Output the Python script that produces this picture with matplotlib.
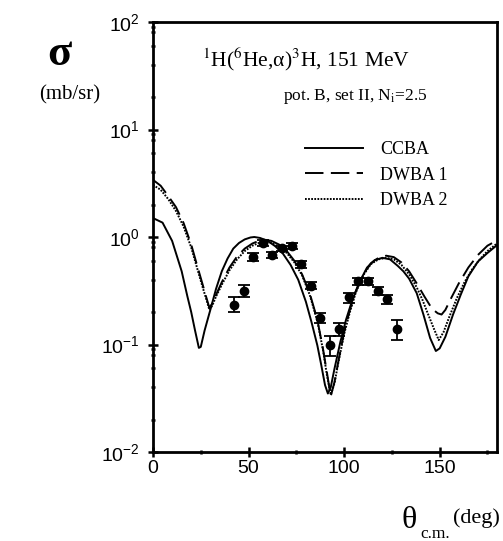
import matplotlib
matplotlib.use("Agg")
import matplotlib.pyplot as plt
from matplotlib.ticker import FixedLocator, MultipleLocator, LogLocator, NullFormatter

plt.rcParams['mathtext.fontset'] = 'stix'

# ---- data ----
exp_theta = [42.5, 47.5, 52.5, 57.5, 62.5, 67.5, 72.5, 77.5, 82.5, 87.5,
             92.5, 97.5, 102.5, 107.5, 112.5, 117.5, 122.5, 127.5]
exp_sigma = [0.235, 0.316, 0.647, 0.874, 0.68, 0.785, 0.824, 0.557, 0.352, 0.178,
             0.100, 0.139, 0.275, 0.39, 0.39, 0.315, 0.263, 0.139]
exp_err_lo = [0.033, 0.038, 0.05, 0.05, 0.04, 0.04, 0.05, 0.04, 0.025, 0.018,
              0.022, 0.019, 0.03, 0.03, 0.03, 0.025, 0.026, 0.029]
exp_err_hi = [0.043, 0.042, 0.06, 0.06, 0.045, 0.045, 0.05, 0.045, 0.028, 0.017,
              0.020, 0.021, 0.028, 0.03, 0.03, 0.025, 0.027, 0.030]

ccba_theta = [0, 5, 10, 15, 18, 20, 22, 24, 25, 27, 30, 33, 36, 39, 42, 45, 48, 51, 53,
              56, 60, 64, 68, 72, 76, 80, 83, 86, 88, 90, 91.5, 93, 95, 98, 101, 104,
              108, 112, 116, 120, 124, 128, 131, 134, 138, 141.5, 145, 148, 150, 153,
              157, 161, 165, 170, 175, 180]
ccba_sigma = [1.5, 1.36, 0.92, 0.48, 0.28, 0.2, 0.135, 0.093, 0.095, 0.135, 0.21, 0.33,
              0.48, 0.63, 0.78, 0.88, 0.95, 0.99, 1.0,
              0.98, 0.92, 0.82, 0.70, 0.55, 0.40, 0.25, 0.16, 0.098, 0.065, 0.042, 0.035,
              0.04, 0.06, 0.105, 0.17, 0.25,
              0.38, 0.52, 0.61, 0.64, 0.62, 0.54, 0.48, 0.41, 0.30, 0.19, 0.115, 0.087,
              0.092, 0.118, 0.19, 0.29, 0.43, 0.59, 0.71, 0.84]

dwba1_theta = [0, 4, 8, 12, 16, 20, 23, 26, 28, 29.5, 31, 33, 36, 40, 44, 48, 52, 56,
               59, 62, 66, 70, 74, 78, 82, 86, 89, 91, 93, 95, 97, 100, 103, 106, 110,
               114, 118, 122, 126, 130, 134, 138, 142, 146, 149, 151, 153, 156, 160,
               165, 170, 175, 180]
dwba1_sigma = [3.4, 3.0, 2.4, 1.9, 1.35, 0.85, 0.55, 0.36, 0.27, 0.22, 0.24, 0.29, 0.38,
               0.52, 0.66, 0.78, 0.87, 0.93,
               0.94, 0.92, 0.85, 0.74, 0.6, 0.45, 0.3, 0.17, 0.09, 0.055, 0.033, 0.045,
               0.07, 0.13, 0.21, 0.31, 0.45,
               0.57, 0.64, 0.67, 0.65, 0.58, 0.48, 0.37, 0.28, 0.215, 0.195, 0.19, 0.21,
               0.27, 0.37, 0.52, 0.68, 0.83, 0.93]

dwba2_theta = [0, 4, 8, 12, 16, 20, 23, 26, 28, 29.5, 31, 33, 36, 40, 44, 48, 52, 56,
               59, 62, 66, 70, 74, 78, 82, 86, 89, 91, 93, 95, 97, 100, 103, 106, 110,
               114, 118, 122, 126, 130, 134, 138, 141, 144, 147, 149.5, 152, 155, 159,
               163, 167, 171, 175, 180]
dwba2_sigma = [3.05, 2.75, 2.25, 1.75, 1.25, 0.8, 0.52, 0.34, 0.26, 0.21, 0.23, 0.28,
               0.36, 0.49, 0.62, 0.74, 0.83, 0.89,
               0.9, 0.88, 0.81, 0.71, 0.58, 0.44, 0.29, 0.165, 0.088, 0.052, 0.034, 0.044,
               0.068, 0.125, 0.2, 0.3, 0.44,
               0.56, 0.62, 0.64, 0.62, 0.55, 0.45, 0.34, 0.26, 0.19, 0.14, 0.11, 0.13,
               0.18, 0.27, 0.38, 0.5, 0.62, 0.74, 0.87]

x_ticks = [0, 50, 100, 150]
y_ticks = [1e-2, 1e-1, 1e0, 1e1, 1e2]

# ---- figure ----
fig = plt.figure(figsize=(5.03, 5.41), dpi=100)
ax = fig.add_axes([153/503, 1-452/541, (497-153)/503, (452-22)/541])

ax.plot(ccba_theta, ccba_sigma, color='black', lw=1.4, ls='-', label='CCBA')
ax.plot(dwba1_theta, dwba1_sigma, color='black', lw=1.4, dashes=(9.5, 3.8), label='DWBA 1')
ax.plot(dwba2_theta, dwba2_sigma, color='black', lw=1.4, dashes=(0.9, 0.7), label='DWBA 2')

ax.errorbar(exp_theta, exp_sigma, yerr=[exp_err_lo, exp_err_hi], fmt='o', color='black',
            ms=6, capsize=4, elinewidth=1.3, capthick=1.3)

ax.set_yscale('log')
ax.set_xlim(0, 180)
ax.set_ylim(1e-2, 1e2)

ax.xaxis.set_major_locator(FixedLocator(x_ticks))
ax.xaxis.set_minor_locator(MultipleLocator(25))
ax.yaxis.set_major_locator(FixedLocator(y_ticks))
ax.yaxis.set_minor_locator(LogLocator(base=10, subs=[2, 4, 6, 8, 9]))
ax.yaxis.set_minor_formatter(NullFormatter())

for s in ax.spines.values():
    s.set_linewidth(2.0)

ax.tick_params(axis='both', which='major', direction='inout', length=7.5, width=1.8,
               labelsize=14, top=False, right=False)
ax.tick_params(axis='both', which='minor', direction='inout', length=3.0, width=1.8,
               top=False, right=False)
ax.tick_params(axis='x', which='major', pad=2)
ax.tick_params(axis='y', which='major', pad=5.5)
for lab in ax.get_xticklabels() + ax.get_yticklabels():
    lab.set_family('Liberation Sans')

# texts
serif = 'Liberation Serif'
fig.text(59/503, 1-54/541, 'σ', family=serif, weight='bold', fontsize=32,
         ha='center', va='center')
fig.text(70/503, 1-95/541, '(mb/sr)', family=serif, fontsize=15, ha='center', va='center')

ax.text(0.142, 0.912, r'$^{1}$H($^{6}$He,α)$^{3}$H, 151 MeV', transform=ax.transAxes,
        family=serif, fontsize=15.5, ha='left', va='center')
ax.text(0.378, 0.826, r'pot. B, set II, N$_{\rm i}$=2.5', transform=ax.transAxes,
        family=serif, fontsize=12.5, ha='left', va='center')

leg = ax.legend(loc='upper left', bbox_to_anchor=(0.442, 0.723), frameon=False,
                prop={'family': serif, 'size': 13}, handlelength=3.2,
                handletextpad=0.94, labelspacing=0.47, borderpad=0, borderaxespad=0)

# x label: upright theta with subscript
fig.text(409/503, 1-521/541, 'θ', family=serif, fontsize=23, ha='center', va='center')
fig.text(435/503, 1-534/541, 'c.m.', family=serif, fontsize=12.5, ha='center', va='center')
fig.text(476/503, 1-518/541, '(deg)', family=serif, fontsize=16, ha='center', va='center')

fig.savefig('out.png', dpi=100)
